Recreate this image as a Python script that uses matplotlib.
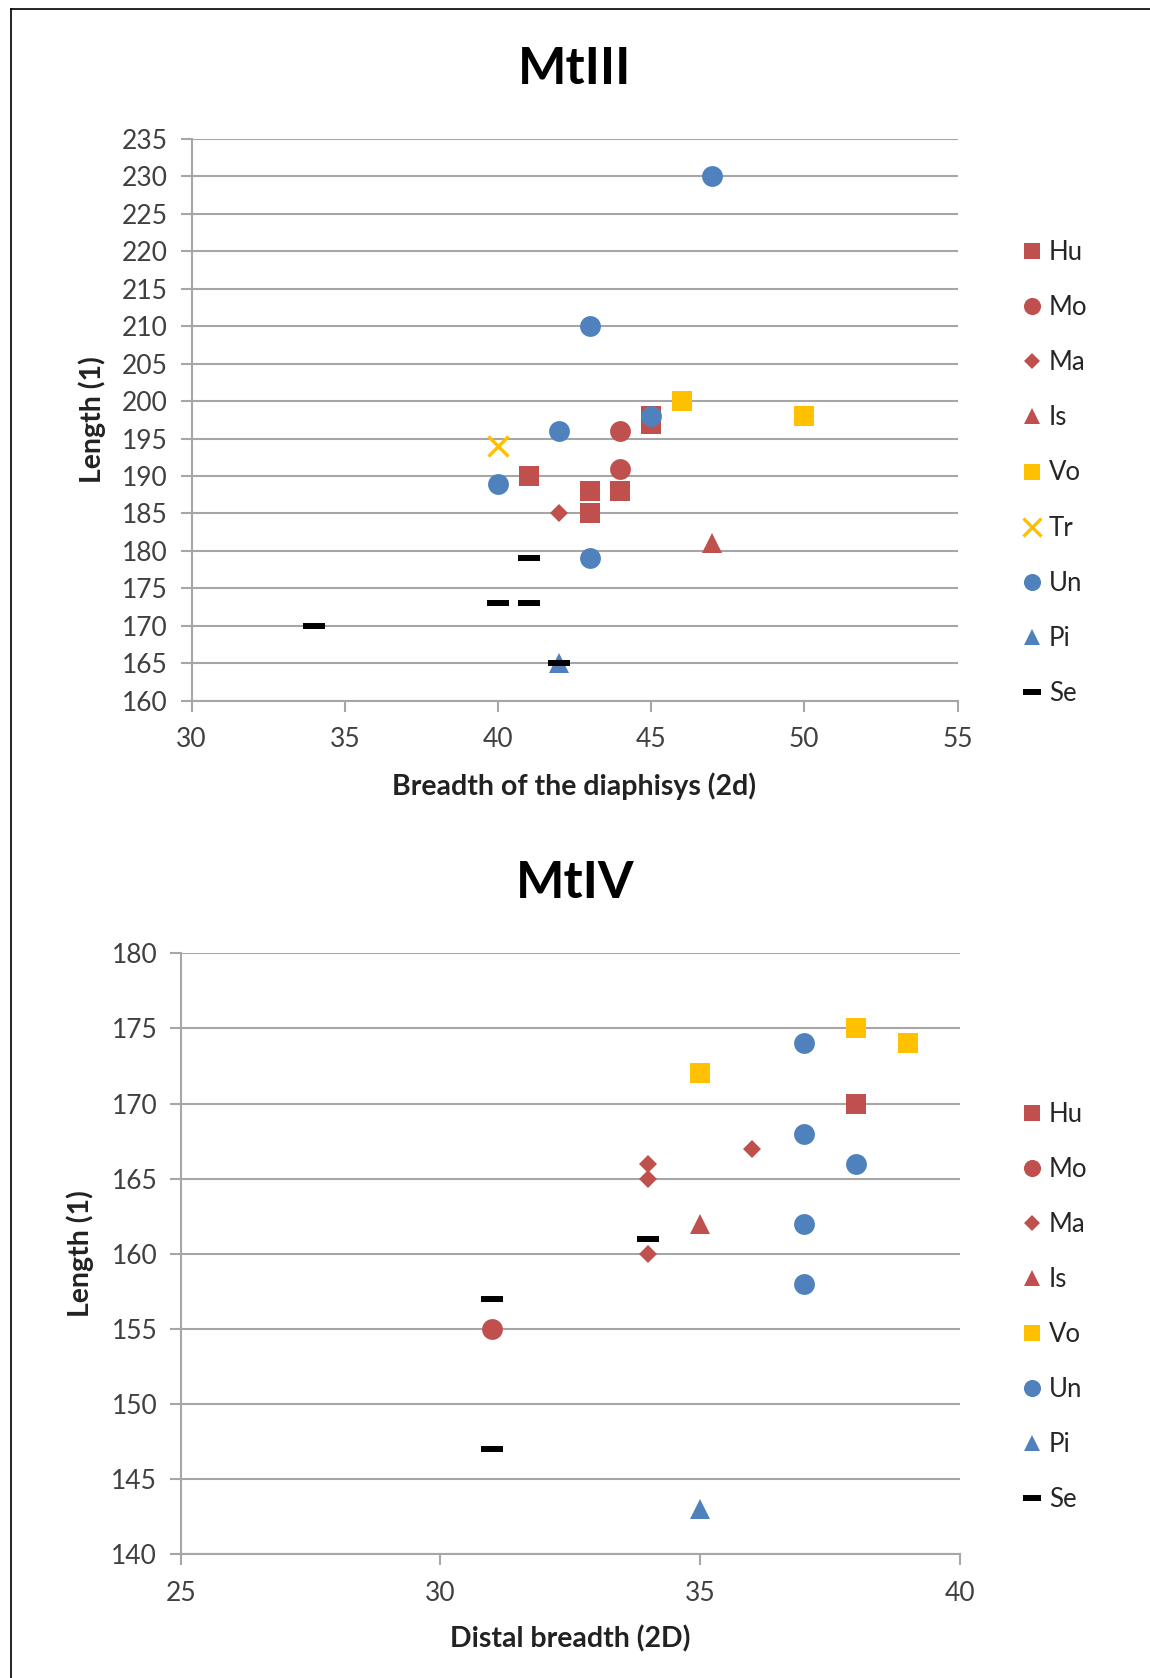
import matplotlib
matplotlib.use("Agg")
import matplotlib.pyplot as plt
from matplotlib.lines import Line2D

plt.rcParams['font.family'] = ['Lato', 'DejaVu Sans']

# ---- MtIII: breadth of the diaphysis (2d) vs length (1) ----
mt3_series = ["Hu", "Mo", "Ma", "Is", "Vo", "Tr", "Un", "Pi", "Se"]
mt3_x = {
    "Hu": [41, 43, 43, 44, 45, 45],
    "Mo": [44, 44],
    "Ma": [42],
    "Is": [47],
    "Vo": [46, 50],
    "Tr": [40],
    "Un": [47, 43, 45, 42, 40, 43],
    "Pi": [42],
    "Se": [41, 40, 41, 34, 42],
}
mt3_y = {
    "Hu": [190, 188, 185, 188, 198, 197],
    "Mo": [196, 191],
    "Ma": [185],
    "Is": [181],
    "Vo": [200, 198],
    "Tr": [194],
    "Un": [230, 210, 198, 196, 189, 179],
    "Pi": [165],
    "Se": [179, 173, 173, 170, 165],
}
mt3_xticks = [30, 35, 40, 45, 50, 55]
mt3_yticks = list(range(160, 236, 5))

# ---- MtIV: distal breadth (2D) vs length (1) ----
mt4_series = ["Hu", "Mo", "Ma", "Is", "Vo", "Un", "Pi", "Se"]
mt4_x = {
    "Hu": [38],
    "Mo": [31],
    "Ma": [36, 34, 34, 34],
    "Is": [35],
    "Vo": [38, 39, 35],
    "Un": [37, 37, 38, 37, 37],
    "Pi": [35],
    "Se": [34, 31, 31],
}
mt4_y = {
    "Hu": [170],
    "Mo": [155],
    "Ma": [167, 166, 165, 160],
    "Is": [162],
    "Vo": [175, 174, 172],
    "Un": [174, 168, 166, 162, 158],
    "Pi": [143],
    "Se": [161, 157, 147],
}
mt4_xticks = [25, 30, 35, 40]
mt4_yticks = list(range(140, 181, 5))

RED = "#C0504D"
GOLD = "#FFC000"
BLUE = "#4F81BD"
styles = {
    "Hu": dict(marker="s", color=RED, ms=14.5),
    "Mo": dict(marker="o", color=RED, ms=15),
    "Ma": dict(marker="D", color=RED, ms=9.5),
    "Is": dict(marker="^", color=RED, ms=14.5),
    "Vo": dict(marker="s", color=GOLD, ms=14.5),
    "Tr": dict(marker="x", color=GOLD, ms=15, mew=2.4),
    "Un": dict(marker="o", color=BLUE, ms=15),
    "Pi": dict(marker="^", color=BLUE, ms=14.5),
    "Se": dict(marker="_", color="black", ms=15.5, mew=4.3),
}

GRID = "#A6A6A6"
TICKC = "#404040"

W, H = 1150, 1678
fig = plt.figure(figsize=(W / 100, H / 100), dpi=100)


def draw_panel(rect, names, xs, ys, xticks, yticks, title, xlabel,
               title_y, xlabel_y, ylabel_x, legend_y):
    ax = fig.add_axes(rect)
    for name in names:
        st = dict(styles[name])
        ax.plot(xs[name], ys[name], linestyle="none", label=name,
                marker=st.pop("marker"), color=st.pop("color"),
                markersize=st.pop("ms"), markeredgewidth=st.pop("mew", 0),
                clip_on=False, zorder=3)
    ax.set_xlim(xticks[0], xticks[-1])
    ax.set_ylim(yticks[0], yticks[-1])
    ax.set_xticks(xticks)
    ax.set_yticks(yticks)
    ax.yaxis.grid(True, color=GRID, linewidth=1.5)
    ax.set_axisbelow(True)
    for s in ("top", "right"):
        ax.spines[s].set_visible(False)
    for s in ("left", "bottom"):
        ax.spines[s].set_color(GRID)
        ax.spines[s].set_linewidth(1.5)
    ax.tick_params(axis="both", direction="out", length=8, width=1.5,
                   color=GRID, labelsize=19, labelcolor=TICKC)
    ax.tick_params(axis="x", pad=11)
    ax.tick_params(axis="y", pad=9)

    fig.text(0.5, 1 - title_y / H, title, ha="center", va="center",
             fontsize=37, fontweight="bold")
    fig.text((rect[0] + rect[0] + rect[2]) / 2, 1 - xlabel_y / H, xlabel,
             ha="center", va="center", fontsize=20.5, fontweight="bold",
             color="#222222")
    y_mid = rect[1] + rect[3] / 2
    fig.text(ylabel_x / W, y_mid, "Length (1)", rotation=90, ha="center",
             va="center", fontsize=20.5, fontweight="bold", color="#222222")

    leg = ax.legend(loc="center left", bbox_to_anchor=(1009 / W, 1 - legend_y / H),
                    bbox_transform=fig.transFigure, frameon=False,
                    fontsize=18.5, markerscale=0.82, handlelength=0.8,
                    handletextpad=0.25, labelspacing=1.17, borderpad=0)
    for t in leg.get_texts():
        t.set_color("#262626")
    return ax


draw_panel([191.5 / W, 1 - 700.7 / H, 766 / W, 561.7 / H],
           mt3_series, mt3_x, mt3_y, mt3_xticks, mt3_yticks,
           "MtIII", "Breadth of the diaphisys (2d)",
           title_y=70, xlabel_y=786, ylabel_x=92, legend_y=473)

draw_panel([180.8 / W, 1 - 1554.4 / H, 778.8 / W, 601.2 / H],
           mt4_series, mt4_x, mt4_y, mt4_xticks, mt4_yticks,
           "MtIV", "Distal breadth (2D)",
           title_y=883, xlabel_y=1639, ylabel_x=80, legend_y=1307)

# outer frame
fig.add_artist(Line2D([11 / W, 11 / W], [0, 1 - 9 / H], transform=fig.transFigure,
                      color="black", linewidth=1.2))
fig.add_artist(Line2D([11 / W, 1], [1 - 9 / H, 1 - 9 / H], transform=fig.transFigure,
                      color="black", linewidth=1.2))

fig.savefig("out.png", dpi=100, facecolor="white")
